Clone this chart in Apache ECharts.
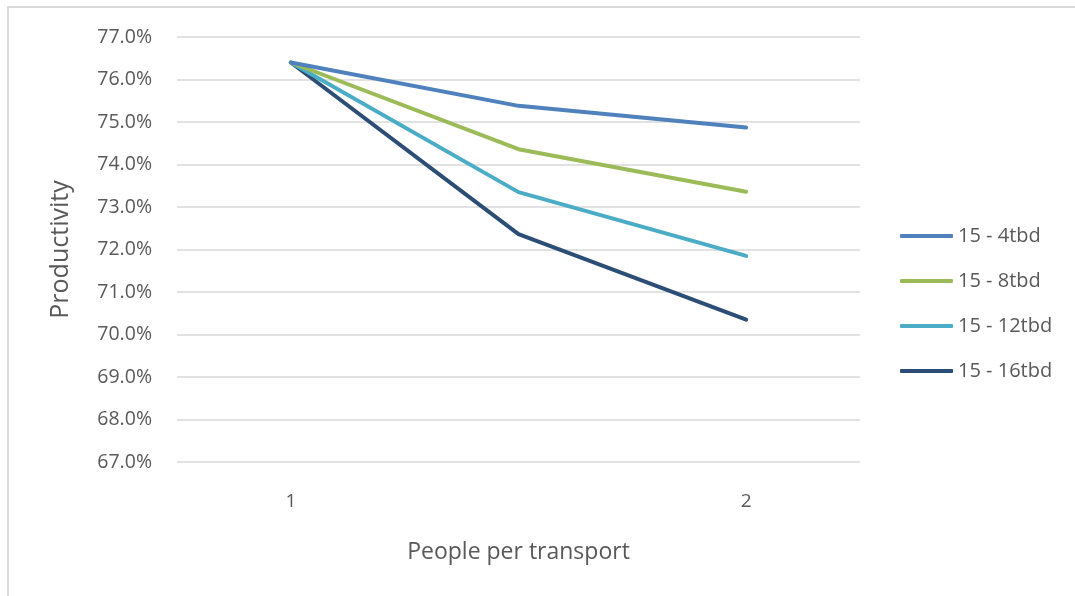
<!DOCTYPE html>
<html>
<head>
<meta charset="utf-8">
<title>Productivity by people per transport</title>
<script src="https://cdn.jsdelivr.net/npm/echarts@6/dist/echarts.min.js"></script>
<style>
  html, body { margin: 0; padding: 0; background: #fff; overflow: hidden; }
  #frame {
    position: absolute; left: 7px; top: 6px; width: 1200px; height: 700px;
    border-top: 2px solid #d9d9d9; border-left: 2px solid #d9d9d9; box-sizing: border-box;
  }
  #chart { position: absolute; left: 0; top: 0; width: 1075px; height: 596px; }
</style>
</head>
<body>
<div id="frame"></div>
<div id="chart"></div>
<script>
// People per transport (middle point sits between 1 and 2 without a label)
const categories = ['1', '', '2'];

// Productivity, in percent
const series4tbd  = [76.4, 75.38, 74.87];
const series8tbd  = [76.4, 74.36, 73.36];
const series12tbd = [76.4, 73.35, 71.85];
const series16tbd = [76.4, 72.36, 70.35];

const seriesNames = ['15 - 4tbd', '15 - 8tbd', '15 - 12tbd', '15 - 16tbd'];
const seriesColors = ['#4f81bd', '#9bbb59', '#4bacc6', '#2c4d75'];
const seriesData = [series4tbd, series8tbd, series12tbd, series16tbd];

const yMin = 67, yMax = 77, yStep = 1;

const textColor = '#595959';
const fontFamily = '"Open Sans", Lato, sans-serif';

const chart = echarts.init(document.getElementById('chart'), null, { renderer: 'canvas' });

chart.setOption({
  animation: false,
  backgroundColor: 'transparent',
  textStyle: { fontFamily: fontFamily, color: textColor },
  grid: { left: 177, right: 215, top: 37, bottom: 134, containLabel: false },
  legend: {
    orient: 'vertical',
    left: 900,
    top: 226,
    padding: 0,
    itemWidth: 53,
    itemHeight: 4,
    itemGap: 25,
    icon: 'roundRect',
    data: seriesNames,
    textStyle: { fontSize: 20, color: textColor, lineHeight: 20, fontFamily: fontFamily }
  },
  xAxis: {
    type: 'category',
    data: categories,
    boundaryGap: true,
    name: 'People per transport',
    nameLocation: 'middle',
    nameGap: 79,
    nameTextStyle: { fontSize: 23, color: textColor, fontFamily: fontFamily },
    axisLine: { show: false },
    axisTick: { show: false },
    axisLabel: { fontSize: 19, color: textColor, margin: 30, interval: 0, fontFamily: fontFamily },
    splitLine: { show: false }
  },
  yAxis: {
    type: 'value',
    min: yMin,
    max: yMax,
    interval: yStep,
    name: 'Productivity',
    nameLocation: 'middle',
    nameGap: 104,
    nameRotate: 90,
    nameTextStyle: { fontSize: 25, color: textColor, fontFamily: fontFamily },
    axisLine: { show: false },
    axisTick: { show: false },
    axisLabel: {
      fontSize: 19.5, color: textColor, margin: 25, fontFamily: fontFamily,
      formatter: v => v.toFixed(1) + '%'
    },
    splitLine: { show: true, lineStyle: { color: '#d9d9d9', width: 1.5 } }
  },
  series: seriesNames.map((name, i) => ({
    name: name,
    type: 'line',
    data: seriesData[i],
    symbol: 'none',
    showSymbol: false,
    color: seriesColors[i],
    lineStyle: { width: 4, color: seriesColors[i], cap: 'round', join: 'round' },
    z: 10 - i
  }))
});
</script>
</body>
</html>
